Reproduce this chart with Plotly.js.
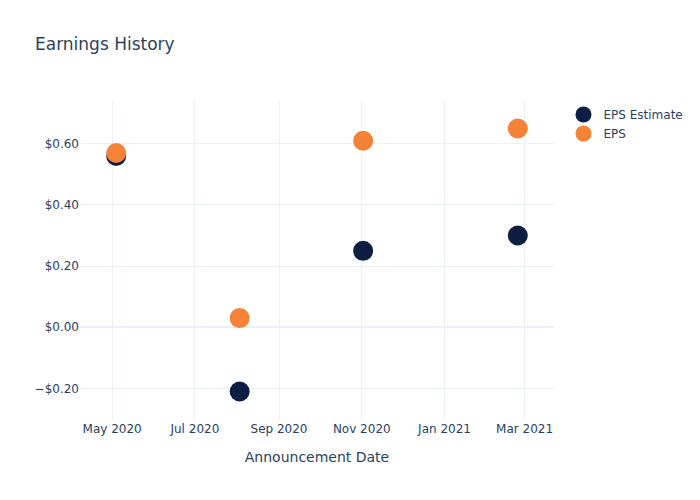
<!DOCTYPE html>
<html>
<head>
<meta charset="utf-8">
<script src="https://cdn.plot.ly/plotly-3.0.1.min.js"></script>
<style>html,body{margin:0;padding:0;background:#fff;}#chart{width:700px;height:500px;}</style>
</head>
<body>
<div id="chart"></div>
<script>
const dates = ["2020-05-04", "2020-08-03", "2020-11-02", "2021-02-24"];
const epsEstimate = [0.56, -0.21, 0.25, 0.30];
const eps = [0.57, 0.03, 0.61, 0.65];

const traces = [
  {
    x: dates, y: epsEstimate, name: "EPS Estimate", type: "scatter", mode: "markers",
    marker: {color: "#0c1f42", size: 20}
  },
  {
    x: dates, y: eps, name: "EPS", type: "scatter", mode: "markers",
    marker: {color: "#f58236", size: 20}
  }
];

const layout = {
  width: 700, height: 500,
  font: {family: "DejaVu Sans", color: "#2a3f5f"},
  template: {
    layout: {
      paper_bgcolor: "white", plot_bgcolor: "white",
      xaxis: {gridcolor: "#EBF0F8", linecolor: "#EBF0F8", zerolinecolor: "#EBF0F8", zerolinewidth: 2, ticks: "", automargin: true},
      yaxis: {gridcolor: "#EBF0F8", linecolor: "#EBF0F8", zerolinecolor: "#EBF0F8", zerolinewidth: 2, ticks: "", automargin: true},
      title: {x: 0.05}
    }
  },
  title: {text: "Earnings History"},
  xaxis: {title: {text: "Announcement Date", standoff: 17}},
  yaxis: {tickformat: "$.2f"}
};

Plotly.newPlot("chart", traces, layout, {displayModeBar: false});
</script>
</body>
</html>
